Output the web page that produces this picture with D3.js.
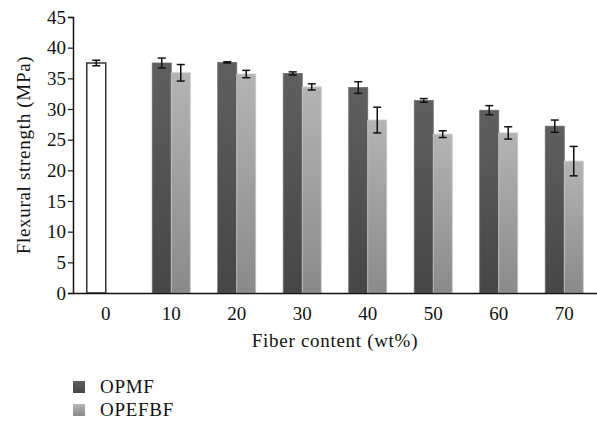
<!DOCTYPE html>
<html>
<head>
<meta charset="utf-8">
<script src="https://cdn.jsdelivr.net/npm/d3@7"></script>
<style>
  body { margin: 0; background: #fff; }
  svg text { font-family: "Liberation Serif", "Times New Roman", serif; fill: #111; }
</style>
</head>
<body>
<div id="chart"></div>
<script>
'use strict';

// data
const categories = ['0', '10', '20', '30', '40', '50', '60', '70'];
const controlValue = [37.5];        // neat matrix, 0 wt%
const controlErr = [0.45];
const opmf = [null, 37.5, 37.6, 35.8, 33.5, 31.4, 29.8, 27.2];
const opmfErr = [null, 0.8, 0.1, 0.25, 0.95, 0.3, 0.75, 1.0];
const opefbf = [null, 35.9, 35.7, 33.6, 28.2, 25.9, 26.1, 21.5];
const opefbfErr = [null, 1.35, 0.6, 0.5, 2.1, 0.55, 1.0, 2.4];
const yTicks = [0, 5, 10, 15, 20, 25, 30, 35, 40, 45];
const seriesNames = ['OPMF', 'OPEFBF'];

const width = 597, height = 421;
const margin = {top: 17, right: 0, bottom: 128, left: 73};
const barW = 19;
const fs = 19;

const svg = d3.select('#chart').append('svg')
  .attr('width', width).attr('height', height);

// gradients for the bars
const defs = svg.append('defs');
function grad(id, top, bottom) {
  let g = defs.append('linearGradient').attr('id', id)
    .attr('x1', 0).attr('y1', 0).attr('x2', 0).attr('y2', 1);
  g.append('stop').attr('offset', '0%').attr('stop-color', top);
  g.append('stop').attr('offset', '100%').attr('stop-color', bottom);
}
grad('gDark', '#5f5f5f', '#464646');
grad('gLight', '#b4b4b4', '#8a8a8a');

let x = d3.scaleBand().domain(categories).range([margin.left, width - margin.right]);
let y = d3.scaleLinear().domain([0, 45]).range([height - margin.bottom, margin.top]);
let cx = c => x(c) + x.bandwidth() / 2;

// control bar (left slot of first group)
svg.append('g').selectAll('rect').data(controlValue).enter().append('rect')
  .attr('x', (d, i) => cx(categories[i]) - barW)
  .attr('y', d => y(d))
  .attr('width', barW)
  .attr('height', d => y(0) - y(d))
  .attr('fill', '#fff').attr('stroke', '#333').attr('stroke-width', 1.5);

// series bars
function drawSeries(vals, offset, fill, edge) {
  let data = vals.map((v, i) => ({c: categories[i], v: v})).filter(d => d.v !== null);
  svg.append('g').selectAll('rect').data(data).enter().append('rect')
    .attr('x', d => cx(d.c) + offset)
    .attr('y', d => y(d.v))
    .attr('width', barW)
    .attr('height', d => y(0) - y(d.v))
    .attr('fill', fill).attr('stroke', edge).attr('stroke-width', 0.8);
}
drawSeries(opmf, -barW, 'url(#gDark)', '#6a6a6a');
drawSeries(opefbf, 0, 'url(#gLight)', '#c8c8c8');

// error bars
function drawErr(vals, errs, offset) {
  let data = vals.map((v, i) => ({c: categories[i], v: v, e: errs[i]})).filter(d => d.v !== null);
  let g = svg.append('g').attr('stroke', '#111').attr('stroke-width', 1.5);
  data.forEach(d => {
    let xm = cx(d.c) + offset + barW / 2;
    g.append('line').attr('x1', xm).attr('x2', xm).attr('y1', y(d.v + d.e)).attr('y2', y(d.v - d.e));
    g.append('line').attr('x1', xm - 4).attr('x2', xm + 4).attr('y1', y(d.v + d.e)).attr('y2', y(d.v + d.e));
    g.append('line').attr('x1', xm - 4).attr('x2', xm + 4).attr('y1', y(d.v - d.e)).attr('y2', y(d.v - d.e));
  });
}
drawErr([controlValue[0]].concat(Array(7).fill(null)), [controlErr[0]].concat(Array(7).fill(null)), -barW);
drawErr(opmf, opmfErr, -barW);
drawErr(opefbf, opefbfErr, 0);

// y axis
let yAxis = svg.append('g').attr('transform', `translate(${margin.left},0)`)
  .call(d3.axisLeft(y).tickValues(yTicks).tickSize(5).tickPadding(2));
yAxis.select('.domain').attr('stroke', '#111').attr('stroke-width', 1.5);
yAxis.selectAll('.tick line').attr('stroke', '#111').attr('stroke-width', 1.2);
yAxis.selectAll('text').attr('font-size', fs).style('font-family', '"Liberation Serif", serif');

// x axis
let xAxis = svg.append('g').attr('transform', `translate(0,${y(0)})`)
  .call(d3.axisBottom(x).tickSize(0).tickPadding(14));
xAxis.select('.domain').attr('stroke', '#111').attr('stroke-width', 1.5);
xAxis.selectAll('text').attr('font-size', fs).style('font-family', '"Liberation Serif", serif');

// axis titles
svg.append('text')
  .attr('transform', 'translate(30,155) rotate(-90)')
  .attr('text-anchor', 'middle').attr('font-size', fs).attr('letter-spacing', 0.7)
  .text('Flexural strength (MPa)');

svg.append('text')
  .attr('x', (margin.left + width) / 2).attr('y', 347)
  .attr('text-anchor', 'middle').attr('font-size', fs).attr('letter-spacing', 0.7)
  .text('Fiber content (wt%)');

// legend
let legend = svg.append('g');
seriesNames.forEach((s, i) => {
  let ly = 393 + i * 23;
  legend.append('rect').attr('x', 73).attr('y', ly - 12).attr('width', 12).attr('height', 12)
    .attr('fill', i === 0 ? 'url(#gDark)' : 'url(#gLight)');
  legend.append('text').attr('x', 100).attr('y', ly)
    .attr('font-size', fs).attr('letter-spacing', 0.7).text(s);
});
</script>
</body>
</html>
